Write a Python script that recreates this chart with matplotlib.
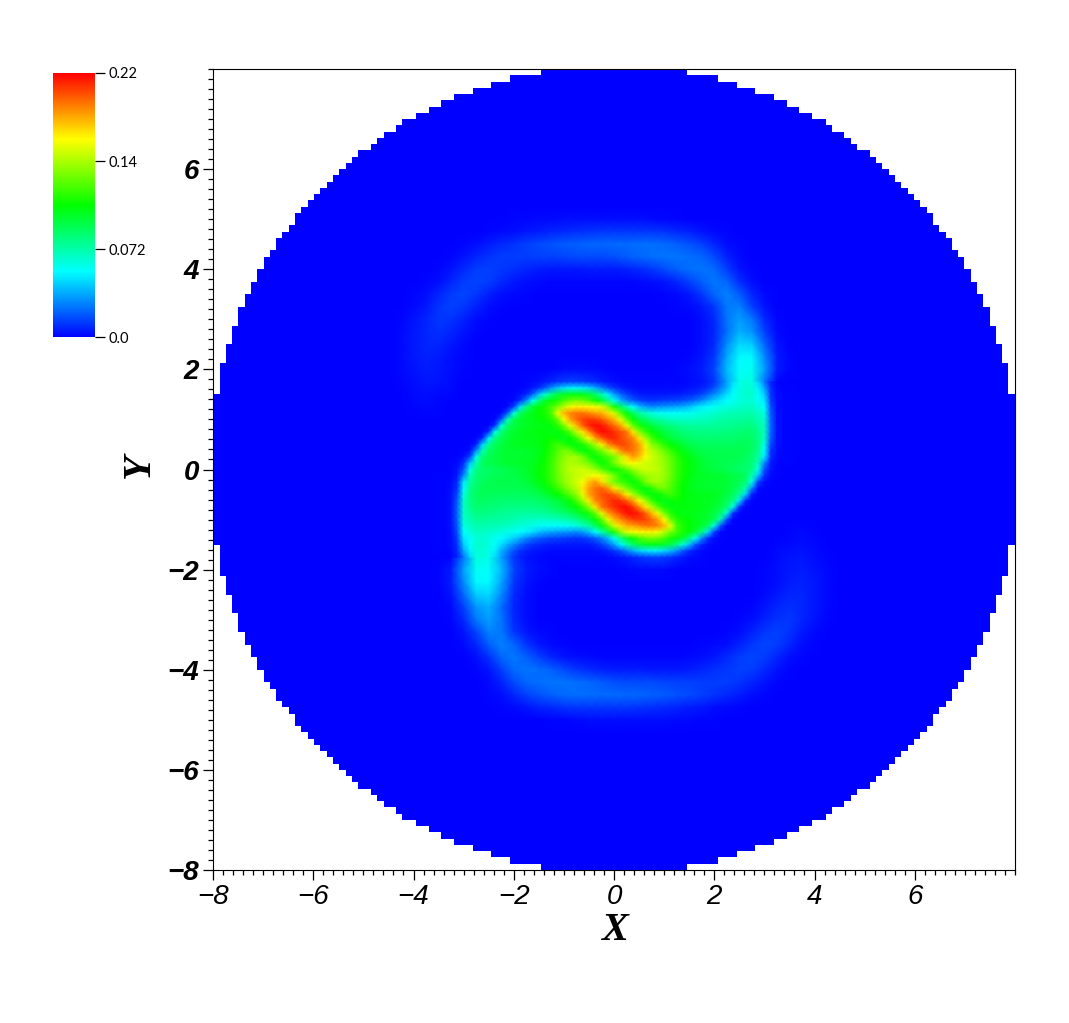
import numpy as np
import matplotlib
matplotlib.use("Agg")
import matplotlib.pyplot as plt
from matplotlib.colors import LinearSegmentedColormap
from matplotlib.ticker import MultipleLocator

# field, thousandths, rows from Y=5.25 down to Y=-5.25, step 0.25
# columns X=-4.75 .. 4.75, step 0.25. the middle is covered by core_rows so it stays 0 here
field_x = np.arange(-4.75, 4.76, 0.25)
field_y = np.arange(5.25, -5.26, -0.25)
field_rows = [
    [0]*39,
    [0]*11 + [1,1,2,2,3,3,3,3,3,3,3,2,1,1] + [0]*14,
    [0]*9 + [1,2,3,5,6,8,9,10,11,12,12,12,12,12,11,9,7,4,2,1] + [0]*10,
    [0]*7 + [1,3,6,9,11,14,16,18,20,21,22,22,23,23,24,24,23,21,18,14,8,3,1] + [0]*9,
    [0]*6 + [1,4,8,11,13,13,13,14,14,15,16,16,16,17,20,22,24,25,25,24,22,16,7,2] + [0]*9,
    [0]*5 + [1,4,9,13,14,12,10,8,6,5,5,5,6,6,6,7,9,12,16,21,24,25,23,13,4,1] + [0]*8,
    [0]*4 + [1,3,8,13,15,13,9,5,3,2,1,1,1,1,1,1,1,2,3,4,8,14,21,26,22,10,3] + [0]*8,
    [0]*3 + [1,3,8,13,15,12,7,3,2,1] + [0]*10 + [1,2,5,12,22,28,20,8,2] + [0]*7,
    [0]*3 + [2,5,11,14,12,7,3,1] + [0]*13 + [1,2,5,12,26,28,14,4] + [0]*7,
    [0]*2 + [1,4,8,12,11,7,3,1] + [0]*16 + [3,9,25,34,26,9,1] + [0]*6,
    [0]*2 + [2,5,8,10,8,4,1] + [0]*17 + [3,8,24,38,32,14,2] + [0]*6,
    [0]*2 + [2,5,8,8,5,2] + [0]*18 + [3,9,30,47,44,22,4] + [0]*6,
    [0]*2 + [2,5,7,6,3,1] + [0]*17 + [1,4,12,36,54,54,30,6,1] + [0]*5,
    [0]*2 + [2,4,6,5,3,1] + [0]*7 + [2,2,2,1] + [0]*5 + [1,3,6,15,40,56,58,34,6,1] + [0]*5,
    [0,0,1,3,5,4,2,0,0,0,0,0,1,3,8,13,14,11,6,3,1,1,1,1,1,2,4,12,35,60,62,26,1] + [0]*6,
    [0,0,0,2,3,2,1] + [0]*25 + [1,1] + [0]*5,
    [0,0,0,1,2,1,0] + [0]*25 + [1,1] + [0]*5,
    [0]*32 + [1,1] + [0]*5,
    [0]*32 + [1,1] + [0]*5,
    [0]*32 + [1,1] + [0]*5,
    [0]*32 + [1,1] + [0]*5,
    [0]*39,
    [0]*5 + [1,1] + [0]*32,
    [0]*5 + [1,1] + [0]*32,
    [0]*5 + [1,1] + [0]*32,
    [0]*5 + [1,1] + [0]*32,
    [0]*5 + [1,1] + [0]*25 + [0,1,2,1,0,0,0],
    [0]*5 + [1,1] + [0]*25 + [1,2,3,2,0,0,0],
    [0]*6 + [1,26,62,60,35,12,4,2,1,1,1,1,1,3,6,11,14,13,8,3,1,0,0,0,0,0,2,4,5,3,1,0,0],
    [0]*5 + [1,6,34,58,56,40,15,6,3,1] + [0]*5 + [1,2,2,2] + [0]*7 + [1,3,5,6,4,2] + [0]*2,
    [0]*5 + [1,6,30,54,54,36,12,4,1] + [0]*17 + [1,3,6,7,5,2] + [0]*2,
    [0]*6 + [4,22,44,47,30,9,3] + [0]*18 + [2,5,8,8,5,2] + [0]*2,
    [0]*6 + [2,14,32,38,24,8,3] + [0]*17 + [1,4,8,10,8,5,2] + [0]*2,
    [0]*6 + [1,9,26,34,25,9,3] + [0]*16 + [1,3,7,11,12,8,4,1] + [0]*2,
    [0]*7 + [4,14,28,26,12,5,2,1] + [0]*13 + [1,3,7,12,14,11,5,2] + [0]*3,
    [0]*7 + [2,8,20,28,22,12,5,2,1] + [0]*10 + [1,2,3,7,12,15,13,8,3,1] + [0]*3,
    [0]*8 + [3,10,22,26,21,14,8,4,3,2,1,1,1,1,1,1,1,2,3,5,9,13,15,13,8,3,1] + [0]*4,
    [0]*8 + [1,4,13,23,25,24,21,16,12,9,7,6,6,6,5,5,5,6,8,10,12,14,13,9,4,1] + [0]*5,
    [0]*9 + [2,7,16,22,24,25,25,24,22,20,17,16,16,16,15,14,14,13,13,13,11,8,4,1] + [0]*6,
    [0]*9 + [1,3,8,14,18,21,23,24,24,23,23,22,22,21,20,18,16,14,11,9,6,3,1] + [0]*7,
    [0]*10 + [1,2,4,7,9,11,12,12,12,12,12,11,10,9,8,6,5,3,2,1] + [0]*9,
    [0]*14 + [1,1,2,3,3,3,3,3,3,3,2,2,1,1] + [0]*11,
    [0]*39,
]

# finer read of the middle, rows Y=1.75 .. -1.75, columns X=-3.375 .. 3.375, step 0.125
core_x = np.arange(-3.375, 3.376, 0.125)
core_y = np.arange(1.75, -1.76, -0.125)
core_rows = [
    [4,2,1,0,0,0,0,0,0,0,0,0,0,1,2,3,5,8,11,13,14,14,13,11,9,6,4,3,2,1,1,1,1,1,1,1,1,1,1,2,3,4,7,12,22,35,48,60,64,62,46,26,7,1,0],
    [3,2,1,0,0,0,0,0,0,0,0,0,1,2,5,10,20,32,42,48,52,52,50,46,38,28,18,12,7,4,3,2,2,2,2,2,2,2,3,4,5,7,11,18,28,38,52,60,64,64,52,36,10,2,0],
    [2,1,0,0,0,0,0,0,0,0,0,1,3,8,20,42,65,82,95,102,106,106,104,98,88,72,52,35,22,14,9,6,5,5,5,5,6,6,7,9,11,15,22,30,38,48,56,62,66,66,56,44,12,3,1],
    [1,0,0,0,0,0,0,0,0,0,1,2,10,30,58,82,100,108,115,125,132,135,132,125,112,100,80,58,40,28,20,15,12,11,12,13,14,15,17,20,24,30,38,45,50,55,58,62,64,64,56,50,14,3,1],
    [0]*10 + [2,14,48,82,98,108,115,125,135,150,162,168,168,166,163,158,140,115,92,72,55,42,34,30,32,33,34,36,38,42,48,52,55,58,60,62,64,66,68,68,62,56,18,3,1],
    [0]*9 + [2,18,62,90,100,105,110,115,125,160,180,192,195,195,190,185,182,172,155,130,108,90,76,68,62,58,57,56,56,57,58,60,62,64,66,68,70,71,72,73,73,68,62,20,4,1],
    [0]*8 + [1,18,70,92,100,103,105,108,112,118,132,165,185,197,205,208,206,200,190,180,160,130,110,96,88,80,75,72,69,68,67,67,68,69,70,72,74,75,76,76,77,78,72,66,22,4,1],
    [0]*7 + [1,10,62,88,96,100,102,104,105,106,108,118,135,160,180,200,212,218,216,207,197,185,160,132,115,104,97,91,86,83,80,78,76,76,76,76,77,78,78,80,81,82,82,76,68,22,4,1],
    [0]*6 + [1,10,60,85,95,100,103,105,106,107,108,106,107,115,128,150,170,190,208,218,216,210,203,195,170,140,122,110,103,97,92,88,85,83,82,82,82,82,82,83,84,85,86,86,80,68,22,4,1],
    [0]*5 + [1,8,50,82,92,98,102,103,104,105,106,108,112,108,104,110,122,145,165,185,200,210,212,205,198,190,170,145,125,112,103,97,93,90,88,86,86,86,86,86,86,87,88,89,88,82,68,20,4,1],
    [0]*4 + [1,6,45,78,90,96,100,103,104,104,105,106,110,117,123,118,108,108,115,130,148,168,188,200,205,203,195,185,160,140,130,118,110,104,98,94,92,90,90,90,90,90,90,91,91,90,82,62,16,4,1],
    [0]*3 + [1,3,30,72,88,94,98,100,100,100,101,102,104,110,118,127,135,132,118,106,112,122,135,150,170,188,198,195,185,170,150,142,132,122,113,105,100,96,94,93,93,93,93,93,93,92,88,80,54,12,3,1],
    [0]*2 + [1,3,15,60,85,92,95,98,100,100,100,101,102,106,112,120,130,140,145,145,135,118,108,118,125,135,150,172,186,178,163,155,148,140,130,120,112,106,101,97,95,94,94,94,93,92,90,86,76,50,10,2,1],
    [0,1,2,10,42,72,90,94,96,98,100,100,101,102,103,107,113,122,133,143,147,145,142,135,122,110,118,135,150,160,165,160,155,152,148,142,132,122,114,108,103,100,97,95,94,92,92,90,88,84,70,30,6,1,0],
    [0,1,4,18,60,82,87,88,90,92,94,96,98,100,104,108,114,122,133,143,150,153,155,150,142,130,118,110,118,130,142,150,155,153,150,143,133,122,114,108,104,100,98,96,94,92,90,88,87,82,60,18,4,1,0],
    [0,1,6,30,70,84,88,90,92,92,94,95,97,100,103,108,114,122,132,142,148,152,155,160,165,160,150,135,118,110,122,135,142,145,147,143,133,122,113,107,103,102,101,100,100,98,96,94,90,72,42,10,2,1,0],
    [1,2,10,50,76,86,90,92,93,94,94,94,95,97,101,106,112,120,130,140,148,155,163,178,186,172,150,135,125,118,108,118,135,145,145,140,130,120,112,106,102,101,100,100,100,98,95,92,85,60,15,3,1,0,0],
    [1,3,12,54,80,88,92,93,93,93,93,93,93,94,96,100,105,113,122,132,142,150,170,185,195,198,188,170,150,135,122,112,106,118,132,135,127,118,110,104,102,101,100,100,100,98,94,88,72,30,3,1,0,0,0],
    [1,4,16,62,82,90,91,91,90,90,90,90,90,90,92,94,98,104,110,118,130,140,160,185,195,203,205,200,188,168,148,130,115,108,108,118,123,117,110,106,105,104,104,103,100,96,90,78,45,6,1] + [0]*4,
    [1,4,20,68,82,88,89,88,87,86,86,86,86,86,86,88,90,93,97,103,112,125,145,170,190,198,205,212,210,200,185,165,145,122,110,104,108,112,108,106,105,104,103,102,98,92,82,50,8,1] + [0]*5,
    [1,4,22,68,80,86,86,85,84,83,82,82,82,82,82,83,85,88,92,97,103,110,122,140,170,195,203,210,216,218,208,190,170,150,128,115,107,106,108,107,106,105,103,100,95,85,60,10,1] + [0]*6,
    [1,4,22,68,76,82,82,81,80,78,78,77,76,76,76,76,78,80,83,86,91,97,104,115,132,160,185,197,207,216,218,212,200,180,160,135,118,108,106,105,104,102,100,96,88,62,10,1] + [0]*7,
    [1,4,22,66,72,78,77,76,76,75,74,72,70,69,68,67,67,68,69,72,75,80,88,96,110,130,160,180,190,200,206,208,205,197,185,165,132,118,112,108,105,103,100,92,70,18,1] + [0]*8,
    [1,4,20,62,68,73,73,72,71,70,68,66,64,62,60,58,57,56,56,57,58,62,68,76,90,108,130,155,172,182,185,190,195,195,192,180,160,125,115,110,105,100,90,62,18,2] + [0]*9,
    [1,3,18,56,62,68,68,66,64,62,60,58,55,52,48,42,38,36,34,33,32,30,34,42,55,72,92,115,140,158,163,166,168,168,162,150,135,125,115,108,98,82,48,14,2] + [0]*10,
    [1,3,14,50,56,64,64,62,58,55,50,45,38,30,24,20,17,15,14,13,12,11,12,15,20,28,40,58,80,100,112,125,132,135,132,125,115,108,100,82,58,30,10,2,1] + [0]*9 + [1],
    [1,3,12,44,56,66,66,62,56,48,38,30,22,15,11,9,7,6,6,5,5,5,5,6,9,14,22,35,52,72,88,98,104,106,106,102,95,82,65,42,20,8,3,1] + [0]*9 + [1,2],
    [0,2,10,36,52,64,64,60,52,38,28,18,11,7,5,4,3,2,2,2,2,2,2,2,3,4,7,12,18,28,38,46,50,52,52,48,42,32,20,10,5,2,1] + [0]*9 + [1,2,3],
    [0,1,7,26,46,62,64,60,48,35,22,12,7,4,3,2,1,1,1,1,1,1,1,1,1,1,2,3,4,6,9,11,13,14,14,13,11,8,5,3,2,1] + [0]*10 + [1,2,4],
]

# half width of the blocky disc, rows of 0.125 from Y=8 down to Y=0
rim_halfwidth = [1.45,2.07,2.45,2.82,3.20,3.46,3.70,3.96,4.22,4.34,4.58,4.72,4.84,5.10,5.22,5.34,
                 5.48,5.60,5.72,5.86,5.98,6.10,6.24,6.36,6.36,6.48,6.62,6.74,6.74,6.86,6.98,6.98,
                 7.12,7.12,7.24,7.24,7.36,7.36,7.50,7.50,7.50,7.62,7.62,7.62,7.74,7.74,7.74,7.87,
                 7.87,7.87,7.87,7.87,8.0,8.0,8.0,8.0,8.0,8.0,8.0,8.0,8.0,8.0,8.0,8.0]

bar_ticks = [0.0, 0.0733, 0.1467, 0.22]
bar_labels = ["0.0", "0.072", "0.14", "0.22"]
rainbow = ["#0000ff", "#00ffff", "#00ff00", "#ffff00", "#ff0000"]

W, H = 1069, 1023


def main():
    cmap = LinearSegmentedColormap.from_list("rainbow5", rainbow, N=512)
    fig = plt.figure(figsize=(W/100, H/100), dpi=100)
    ax = fig.add_axes([213/W, 1-870/H, 802/W, 801/H])

    hw = np.array(rim_halfwidth)
    hw = np.r_[hw, hw[::-1]]
    rim_y = 8 - 0.0625 - 0.125*np.arange(128)
    ax.barh(rim_y, 2*hw, left=-hw, height=0.125, color="#0000ff", linewidth=0, antialiased=False, zorder=1)

    field = np.array(field_rows)/1000.0
    im = ax.pcolormesh(field_x, field_y, field, cmap=cmap, vmin=0, vmax=0.22, shading="gouraud", zorder=2)
    core = np.array(core_rows)/1000.0
    ax.pcolormesh(core_x, core_y, core, cmap=cmap, vmin=0, vmax=0.22, shading="gouraud", zorder=3)
    ax.set_xlim(-8, 8)
    ax.set_ylim(-8, 8)

    ax.spines["top"].set_linewidth(0.8)
    ax.spines["right"].set_linewidth(0.8)
    ax.xaxis.set_minor_locator(MultipleLocator(0.2))
    ax.yaxis.set_minor_locator(MultipleLocator(0.2))
    ax.tick_params(which="major", length=7, width=0.9, pad=3)
    ax.tick_params(which="minor", length=3.5, width=0.9)
    ax.set_xticks(np.arange(-8, 8, 2))
    ax.set_yticks(np.arange(-8, 8, 2))
    for t in ax.get_xticklabels():
        t.set_fontfamily("Liberation Sans")
        t.set_fontstyle("italic")
        t.set_fontsize(20)
    for t in ax.get_yticklabels():
        t.set_fontfamily("Liberation Sans")
        t.set_fontstyle("italic")
        t.set_fontweight("bold")
        t.set_fontsize(20)

    fig.text(614/W, 1-931/H, "X", family="Liberation Serif", style="italic", weight="bold",
             fontsize=29, ha="center", va="center")
    fig.text(139/W, 1-466/H, "Y", family="Liberation Serif", style="italic", weight="bold",
             fontsize=29, ha="center", va="center", rotation=90)

    cax = fig.add_axes([53/W, 1-337.5/H, 42/W, 264.5/H])
    cb = fig.colorbar(im, cax=cax)
    cb.outline.set_visible(False)
    cb.set_ticks(bar_ticks)
    cb.set_ticklabels(bar_labels)
    cax.tick_params(length=7, width=0.9, pad=3, labelsize=10.5)
    for t in cax.get_yticklabels():
        t.set_fontfamily("Lato")

    fig.savefig("out.png", dpi=100)


if __name__ == "__main__":
    main()
